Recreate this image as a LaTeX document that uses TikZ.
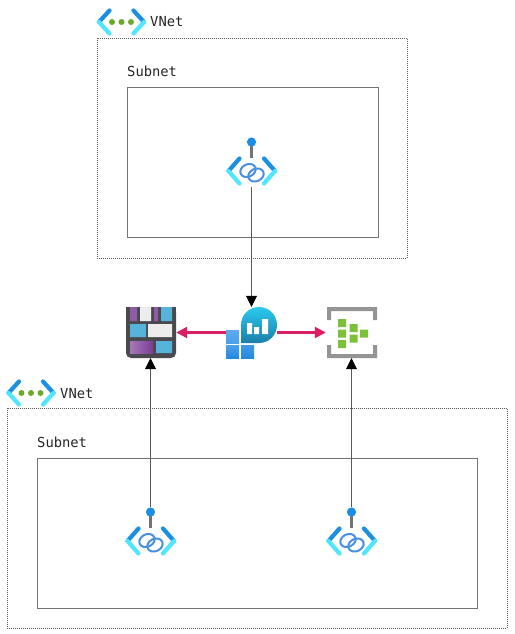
\documentclass[tikz,border=0pt]{standalone}
\usepackage{fontspec}
\setmainfont{DejaVu Sans Mono}
\usetikzlibrary{arrows.meta}
\definecolor{chevA}{HTML}{1B8FE3}
\definecolor{chevB}{HTML}{50E6FF}
\definecolor{dotG}{HTML}{6DA82A}
\definecolor{linkB}{HTML}{4A90E0}
\definecolor{pinkA}{HTML}{DB1F63}
\definecolor{gridD}{HTML}{4A4A4E}
\definecolor{purp}{HTML}{8F5BA6}
\definecolor{purpL}{HTML}{A678B8}
\definecolor{purpD}{HTML}{7A3F95}
\definecolor{blueC}{HTML}{56B3DA}
\definecolor{whiteC}{HTML}{EDEDED}
\definecolor{grayB}{HTML}{949494}
\definecolor{greenC}{HTML}{7DC13B}
\definecolor{squareA}{HTML}{5EA9EF}
\definecolor{squareB}{HTML}{2488DE}
\definecolor{bubT}{HTML}{2BC8EE}
\definecolor{bubB}{HTML}{1A7FA8}
\tikzset{
  zone/.style={draw=black!65,dash pattern=on 1pt off 1pt,line width=0.6pt},
  subnetbox/.style={draw=black!55,line width=0.7pt},
  lbl/.style={font=\fontsize{13.8}{15}\selectfont,anchor=base west,inner sep=0pt,text=black!85},
  iconbox/.style={inner sep=0pt,minimum width=#1,minimum height=#1,draw=none},
  flow/.style={draw=black!65,line width=0.7pt,-{Triangle[length=11pt,width=11pt,color=black]}},
  data/.style={draw=pinkA,line width=2.4pt,-{Triangle[length=11pt,width=11pt]}},
  chev/.style={line width=4.2pt,line cap=round},
  vneticon/.pic={
    \draw[chev,chevA] (-12,-11.5) -- (-22.5,0);
    \draw[chev,chevB] (-22.5,0) -- (-12,11.5);
    \draw[chev,chevA] (12,-11.5) -- (22.5,0);
    \draw[chev,chevB] (22.5,0) -- (12,11.5);
    \fill[dotG] (-9.5,0) circle (3) (0,0) circle (3) (9.5,0) circle (3);
  },
  peicon/.pic={
    \draw[black!55,line width=3pt] (0,-20) -- (0,-4);
    \fill[chevA] (0,-20) circle (4.6);
    \draw[chev,chevA] (-12,-3.5) -- (-23,9);
    \draw[chev,chevB] (-23,9) -- (-12,21.5);
    \draw[chev,chevA] (12.5,-3.5) -- (23.5,9);
    \draw[chev,chevB] (23.5,9) -- (12.5,21.5);
    \draw[linkB,line width=2pt,rotate around={25:(-3.5,8.5)}] (-3.5,8.5) ellipse (8 and 6.2);
    \draw[linkB,line width=2pt,rotate around={25:(4.5,13)}] (4.5,13) ellipse (8 and 6.2);
  }
}
\begin{document}
\begin{tikzpicture}[x=1pt,y=-1pt]
\useasboundingbox (0,0) rectangle (514,634);
\fill[white] (0,0) rectangle (514,634);
% zones
\node[zone,inner sep=0pt,minimum width=310pt,minimum height=220pt] (zoneT) at (252,148) {};
\node[subnetbox,inner sep=0pt,minimum width=251pt,minimum height=150pt] (subT) at (252.5,162) {};
\node[zone,inner sep=0pt,minimum width=500pt,minimum height=220pt] (zoneB) at (257,518) {};
\node[subnetbox,inner sep=0pt,minimum width=440pt,minimum height=150pt] (subB) at (257,533) {};
% labels
\node[lbl] (vnetTl) at (150,27) {VNet};
\node[lbl] (subTl) at (127,77) {Subnet};
\node[lbl] (vnetBl) at (60,398) {VNet};
\node[lbl] (subBl) at (37,447) {Subnet};
% icon anchors
\node[iconbox=50pt] (peT) at (251.5,162) {};
\node[iconbox=50pt] (peL) at (150.5,532) {};
\node[iconbox=50pt] (peR) at (351.5,532) {};
\node[iconbox=51pt] (hub) at (251.5,332.5) {};
\node[iconbox=51pt] (store) at (150.5,332.5) {};
\node[iconbox=51pt] (hubout) at (351.5,332.5) {};
% connectors
\draw[flow] (peT.south) -- (hub.north);
\draw[flow] (peL.north) -- (store.south);
\draw[flow] (peR.north) -- (hubout.south);
\draw[data] (hub.west) -- (store.east);
\draw[data] (hub.east) -- (hubout.west);
% vnet icons
\pic at (121.5,22) {vneticon};
\pic at (31,393) {vneticon};
% pe icons
\pic at (peT.center) {peicon};
\pic at (peL.center) {peicon};
\pic at (peR.center) {peicon};
% hub icon
\shade[top color=bubT,bottom color=bubB]
  (241,343) -- (241,325) .. controls (241,315) and (249,307) .. (259,307)
  .. controls (269,307) and (277,315) .. (277,325)
  .. controls (277,335) and (269,343) .. (259,343) -- cycle;
\fill[white] (247,323) rectangle (252,334) (254,327) rectangle (259,334) (262,319) rectangle (268,334);
\shade[top color=squareA,bottom color=squareA!70!squareB] (226,330) rectangle (239,343);
\shade[top color=squareA!70!squareB,bottom color=squareB] (226,345) rectangle (239,358);
\shade[top color=squareA!50!squareB,bottom color=squareB] (241,345) rectangle (254,358);
% store icon
\fill[gridD,rounded corners=5pt] (126,307) -- (176,307) -- (176,358) -- (126,358) -- cycle;
\fill[gridD] (126,307) rectangle (176,315);
\fill[purp] (130,307) rectangle (137,321) (154,307) rectangle (158,321);
\shade[left color=purpL,right color=purpD] (130,341) rectangle (153,353);
\fill[whiteC] (140,307) rectangle (151,321) (148,324) rectangle (172,337);
\fill[blueC] (161,307) rectangle (172,321) (130,324) rectangle (146,337) (156,341) rectangle (172,353);
% output icon
\fill[grayB] (327,307) rectangle (377,311) (327,307) rectangle (331,320) (373,307) rectangle (377,320);
\fill[grayB] (327,354) rectangle (377,358) (327,345) rectangle (331,358) (373,345) rectangle (377,358);
\fill[greenC] (338,319) rectangle +(8,8) (338,329.5) rectangle +(8,8) (338,340) rectangle +(8,8)
  (349.5,324) rectangle +(8,8) (349.5,334.5) rectangle +(8,8) (360,329.5) rectangle +(8,8);
\end{tikzpicture}
\end{document}
